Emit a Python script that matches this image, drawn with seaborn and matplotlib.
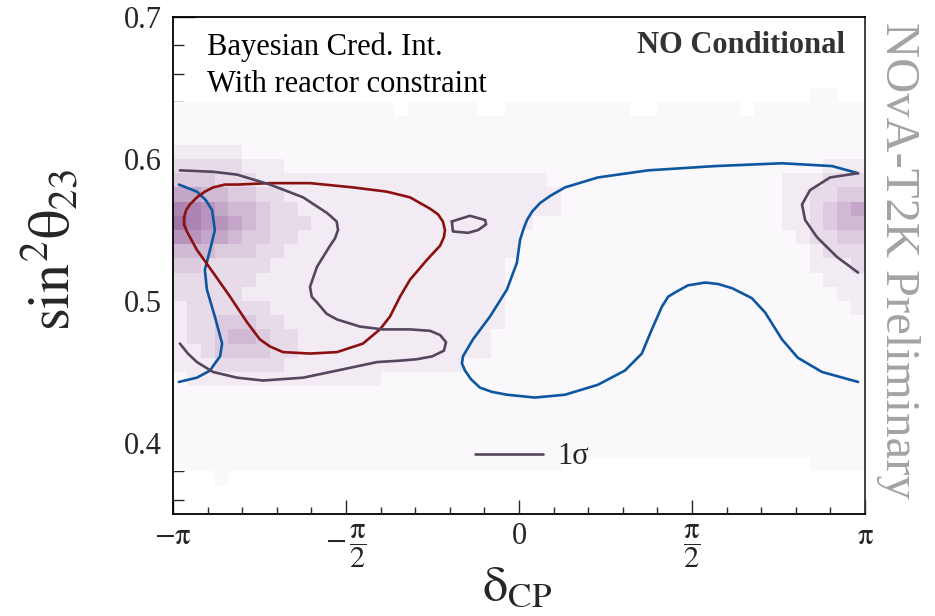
import numpy as np
import pandas as pd
import matplotlib
matplotlib.use("Agg")
import matplotlib.pyplot as plt
import seaborn as sns
from matplotlib.colors import ListedColormap
from matplotlib.ticker import MultipleLocator, FixedLocator

# ---------------------------------------------------------------- data
# Posterior shading levels (0 = empty, 9 = darkest), one string per sin^2(theta23) bin
# from 0.69-0.70 (top) down to 0.35-0.36 (bottom); 50 delta_CP bins from -pi to pi.
heat_rows = [
    "0000000000 0000000000 0000000000 0000000000 0000000000",  # 0.69
    "0000000000 0000000000 0000000000 0000000000 0000000000",  # 0.68
    "0000000000 0000000000 0000000000 0000000000 0000000000",  # 0.67
    "0000000000 0000000000 0000000000 0000000000 0000000000",  # 0.66
    "0000000000 0000000000 0000000000 0000000000 0000000000",  # 0.65
    "0000000000 0000000000 0000000000 0000000000 0000001100",  # 0.64
    "1111111111 1111110111 1100111111 1110011111 1011111111",  # 0.63
    "1111111111 1111111111 1111111111 1111111111 1111111111",  # 0.62
    "1111111111 1111111111 1111111111 1111111111 1111111111",  # 0.61
    "2222211111 1111111111 1111111111 1111111111 1111111111",  # 0.60
    "3333322211 1111111111 1111111111 1111111111 1111111222",  # 0.59
    "4443332222 2222222222 2222222111 1111111111 1111222333",  # 0.58
    "6655443322 2222222222 2222222211 1111111111 1111223344",  # 0.57
    "8876554332 2222222222 2222222211 1111111111 1111223456",  # 0.56
    "9877654333 2222222222 2222221111 1111111111 1111223455",  # 0.55
    "7766544332 2222222222 2222211111 1111111111 1111123344",  # 0.54
    "5554443322 2222222222 2222211111 1111111111 1111112333",  # 0.53
    "4433333222 2222222222 2222111111 1111111111 1111112223",  # 0.52
    "3333332222 2222222222 2222111111 1111111111 1111111222",  # 0.51
    "3333322222 2222222222 2222111111 1111111111 1111111122",  # 0.50
    "2333333222 2222222222 2222111111 1111111111 1111111112",  # 0.49
    "2334443322 2222222222 2222111111 1111111111 1111111111",  # 0.48
    "2334554332 2222222222 2221111111 1111111111 1111111111",  # 0.47
    "2234444332 2222222222 2221111111 1111111111 1111111111",  # 0.46
    "2223333322 2222222222 2111111111 1111111111 1111111111",  # 0.45
    "1222222222 2222211111 1111111111 1111111111 1111111111",  # 0.44
    "1111111111 1111111111 1111111111 1111111111 1111111111",  # 0.43
    "1111111111 1111111111 1111111111 1111111111 1111111111",  # 0.42
    "1111111111 1111111111 1111111111 1111111111 1111111111",  # 0.41
    "1111111111 1111111111 1111111111 1111111111 1111111111",  # 0.40
    "1111111111 1111111111 1111111111 1111111111 1111111111",  # 0.39
    "1111111111 1111111111 1111111100 0000000000 0000001111",  # 0.38
    "0001000000 0000000000 0000000000 0000000000 0000000000",  # 0.37
    "0000000000 0000000000 0000000000 0000000000 0000000000",  # 0.36
    "0000000000 0000000000 0000000000 0000000000 0000000000",  # 0.35
]

# Contours: delta_CP in units of pi, sin^2(theta23)
joint_left_d = [-0.980, -0.884, -0.815, -0.720, -0.624, -0.555, -0.527, -0.523, -0.532, -0.546,
                -0.584, -0.604, -0.599, -0.584, -0.556, -0.526, -0.460, -0.393, -0.315, -0.257,
                -0.228, -0.211, -0.217, -0.251, -0.295, -0.344, -0.410, -0.526, -0.624, -0.740,
                -0.815, -0.884, -0.931, -0.957, -0.980]
joint_left_s = [0.592, 0.591, 0.589, 0.582, 0.573, 0.562, 0.556, 0.550, 0.544, 0.539,
                0.524, 0.510, 0.503, 0.499, 0.491, 0.487, 0.482, 0.480, 0.480, 0.479,
                0.476, 0.471, 0.465, 0.461, 0.459, 0.458, 0.457, 0.451, 0.446, 0.444,
                0.446, 0.450, 0.457, 0.463, 0.470]
joint_island_d = [-0.194, -0.142, -0.098, -0.095, -0.118, -0.147, -0.191, -0.194]
joint_island_s = [0.556, 0.560, 0.557, 0.554, 0.550, 0.548, 0.549, 0.556]
joint_right_d = [0.980, 0.899, 0.841, 0.818, 0.827, 0.861, 0.919, 0.980]
joint_right_s = [0.590, 0.587, 0.578, 0.568, 0.557, 0.545, 0.531, 0.520]

t2k_d = [-0.968, -0.962, -0.951, -0.931, -0.908, -0.884, -0.850, -0.815, -0.720, -0.604,
         -0.480, -0.382, -0.315, -0.286, -0.257, -0.234, -0.220, -0.214, -0.217, -0.228,
         -0.266, -0.315, -0.344, -0.373, -0.402, -0.451, -0.526, -0.604, -0.682, -0.720,
         -0.749, -0.786, -0.835, -0.884, -0.931, -0.960, -0.968, -0.968]
t2k_s = [0.559, 0.564, 0.568, 0.573, 0.577, 0.580, 0.582, 0.582, 0.583, 0.583,
         0.580, 0.577, 0.573, 0.569, 0.565, 0.561, 0.556, 0.550, 0.545, 0.539,
         0.529, 0.515, 0.503, 0.489, 0.480, 0.470, 0.464, 0.463, 0.464, 0.468,
         0.473, 0.485, 0.503, 0.520, 0.536, 0.549, 0.554, 0.559]

nova_left_d = [-0.983, -0.931, -0.905, -0.887, -0.879, -0.893, -0.908, -0.902, -0.879, -0.858,
               -0.864, -0.879, -0.893, -0.931, -0.983]
nova_left_s = [0.582, 0.577, 0.571, 0.564, 0.550, 0.536, 0.522, 0.508, 0.489, 0.470,
               0.461, 0.456, 0.451, 0.446, 0.443]
nova_main_d = [0.980, 0.905, 0.760, 0.566, 0.373, 0.228, 0.133, 0.090, 0.061, 0.038,
               0.023, 0.012, 0.003, -0.006, -0.035, -0.084, -0.133, -0.162, -0.165, -0.156,
               -0.139, -0.113, -0.078, -0.035, 0.046, 0.133, 0.228, 0.306, 0.355, 0.384,
               0.413, 0.431, 0.451, 0.488, 0.538, 0.575, 0.616, 0.673, 0.711, 0.760,
               0.806, 0.876, 0.980]
nova_main_s = [0.590, 0.595, 0.597, 0.595, 0.592, 0.587, 0.580, 0.574, 0.569, 0.563,
               0.557, 0.550, 0.543, 0.527, 0.508, 0.489, 0.473, 0.461, 0.456, 0.451,
               0.445, 0.439, 0.436, 0.434, 0.432, 0.434, 0.441, 0.451, 0.463, 0.480,
               0.496, 0.503, 0.506, 0.511, 0.513, 0.512, 0.509, 0.502, 0.492, 0.473,
               0.460, 0.450, 0.443]

y_tick_values = [0.4, 0.5, 0.6, 0.7]
y_tick_labels = ["0.4", "0.5", "0.6", "0.7"]
x_tick_labels = [r"$-\mathrm{π}$", r"$-\,\dfrac{\mathrm{π}}{2}$", "0",
                 r"$\dfrac{\mathrm{π}}{2}$", r"$\mathrm{π}$"]

# ---------------------------------------------------------------- style
sns.set_style("ticks")
plt.rcParams["font.family"] = ["Liberation Serif", "DejaVu Serif"]
plt.rcParams["mathtext.fontset"] = "stix"

C_JOINT = "#55465e"
C_T2K = "#8c1010"
C_NOVA = "#0d56a0"
shade = ["#faf8fb", "#f2ebf3", "#e7dae9", "#dccbdf", "#d0b9d3",
         "#c4a7c8", "#b894bc", "#ad84b1", "#a275a7"]

fig = plt.figure(figsize=(9.35, 6.16), dpi=100)
ax = fig.add_axes([173 / 935, 1 - 514 / 616, 692 / 935, 497 / 616])

# ---------------------------------------------------------------- heat map
n_y = len(heat_rows)
records = []
for k, row in enumerate(heat_rows):
    vals = row.replace(" ", "")
    for i, ch in enumerate(vals):
        lvl = int(ch)
        if lvl > 0:
            records.append({
                "delta": -np.pi + (i + 0.5) * 2 * np.pi / len(vals),
                "s2": 0.70 - (k + 0.5) * 0.35 / n_y,
                "level": lvl,
            })
df = pd.DataFrame(records)
sns.histplot(data=df, x="delta", y="s2", weights="level",
             bins=(50, 35), binrange=((-np.pi, np.pi), (0.35, 0.70)),
             ax=ax, cbar=False)
mesh = ax.collections[0]
mesh.set_cmap(ListedColormap(shade))
mesh.set_clim(0.5, 9.5)
mesh.set_edgecolor("face")
mesh.set_linewidth(0)

# ---------------------------------------------------------------- contours
def draw(d, s, color, label=None):
    sns.lineplot(x=np.array(d) * np.pi, y=s, sort=False, estimator=None,
                 color=color, lw=1.9, ax=ax, label=label, legend=False,
                 solid_joinstyle="round", solid_capstyle="round")

draw(nova_left_d, nova_left_s, C_NOVA)
draw(nova_main_d, nova_main_s, C_NOVA)
draw(t2k_d, t2k_s, C_T2K)
draw(joint_left_d, joint_left_s, C_JOINT, label="1σ")
draw(joint_island_d, joint_island_s, C_JOINT)
draw(joint_right_d, joint_right_s, C_JOINT)

# ---------------------------------------------------------------- axes
ax.set_xlim(-np.pi, np.pi)
ax.set_ylim(0.35, 0.70)
ax.set_xlabel("")
ax.set_ylabel("")
ax.xaxis.set_major_locator(FixedLocator([-np.pi, -np.pi / 2, 0, np.pi / 2, np.pi]))
ax.set_xticklabels(x_tick_labels)
ax.xaxis.set_minor_locator(MultipleLocator(np.pi / 10))
ax.yaxis.set_major_locator(FixedLocator(y_tick_values))
ax.set_yticklabels(y_tick_labels)
ax.yaxis.set_minor_locator(MultipleLocator(0.02))

ax.tick_params(axis="y", which="major", direction="in", length=16, width=1.0,
               labelsize=22, pad=8, right=False)
ax.tick_params(axis="y", which="minor", direction="in", length=8, width=1.0, right=False)
ax.tick_params(axis="x", which="major", direction="in", length=10, width=1.0,
               labelsize=22, pad=6, top=False)
ax.tick_params(axis="x", which="minor", direction="in", length=5, width=1.0, top=False)
for side in ["left", "bottom", "top"]:
    ax.spines[side].set_visible(True)
    ax.spines[side].set_linewidth(1.3)
    ax.spines[side].set_color("black")
ax.spines["right"].set_visible(True)
ax.spines["right"].set_linewidth(1.3)
ax.spines["right"].set_color("#333333")

h, l = ax.get_legend_handles_labels()
ax.legend(h[:1], ["1σ"], loc="center left", bbox_to_anchor=(0.436, 0.115),
          frameon=False, handlelength=2.25, handletextpad=0.45,
          borderpad=0, borderaxespad=0, fontsize=22)

# ---------------------------------------------------------------- texts
fig.text(207 / 935, 1 - 55 / 616, "Bayesian Cred. Int.", fontsize=22,
         ha="left", va="baseline", color="black")
fig.text(207 / 935, 1 - 92 / 616, "With reactor constraint", fontsize=22,
         ha="left", va="baseline", color="black")
fig.text(845 / 935, 1 - 53 / 616, "NO Conditional", fontsize=22, fontweight="bold",
         ha="right", va="baseline", color="#333333")
fig.text(898 / 935, 1 - 260 / 616, "NOvA-T2K Preliminary", fontsize=35,
         rotation=270, ha="center", va="center", color="#a3a3a3")
fig.text(51 / 935, 1 - 250 / 616, r"$\mathrm{sin}^{2}\mathrm{θ}_{23}$", fontsize=42,
         rotation=90, ha="center", va="center")
fig.text(517 / 935, 1 - 588 / 616, r"$\mathrm{δ}_{\mathrm{CP}}$", fontsize=36,
         ha="center", va="center")

fig.savefig("out.png", dpi=100)
